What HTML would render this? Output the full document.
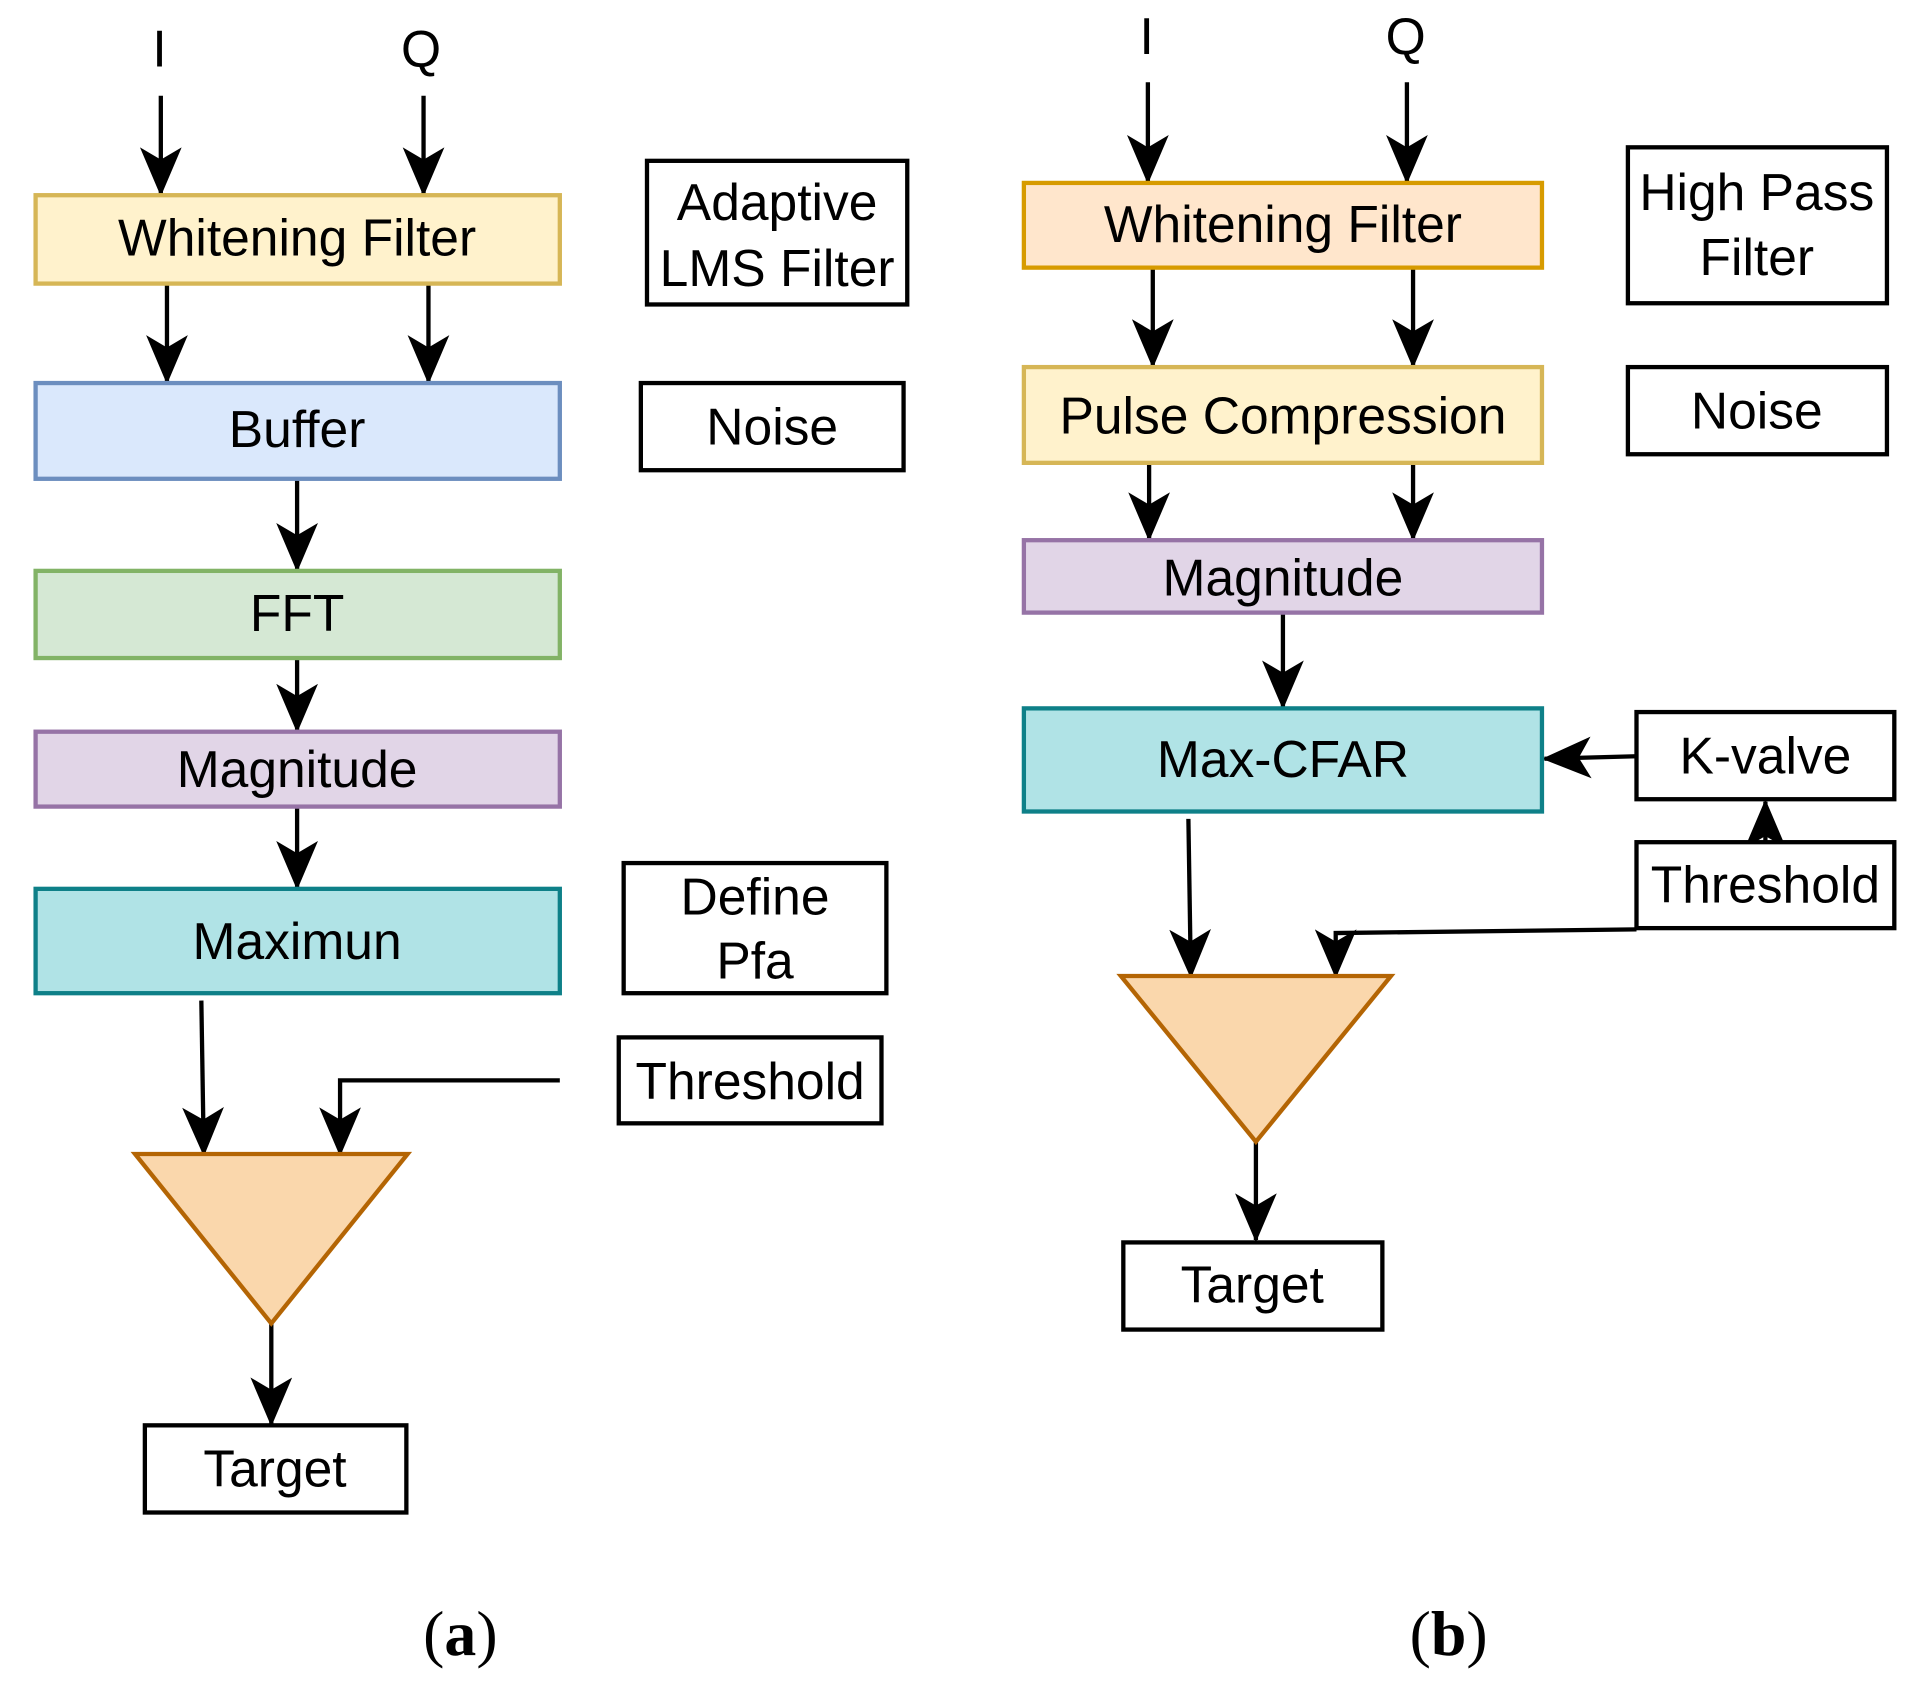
<!DOCTYPE html>
<html><head><meta charset="utf-8"><style>html,body{margin:0;padding:0;background:#fff}svg{display:block}</style></head>
<body>
<svg width="1925" height="1685" viewBox="0 0 1568 1372.5" xmlns="http://www.w3.org/2000/svg" font-family="Liberation Sans, sans-serif" font-size="42">
<defs>
<marker id="b" markerWidth="40" markerHeight="34" refX="38" refY="17" orient="auto" markerUnits="userSpaceOnUse" viewBox="0 0 40 34">
<path d="M0,0 L40,17 L0,34 L10,17 Z" fill="#000"/>
</marker>
</defs>
<g stroke-width="3.5" stroke="#000" fill="none" marker-end="url(#b)">
<line x1="131" y1="78" x2="131" y2="158"/>
<line x1="345" y1="78" x2="345" y2="158"/>
<line x1="136" y1="231" x2="136" y2="311"/>
<line x1="349" y1="231" x2="349" y2="311"/>
<line x1="242" y1="390" x2="242" y2="464"/>
<line x1="242" y1="536" x2="242" y2="595"/>
<line x1="242" y1="657" x2="242" y2="723"/>
<line x1="164" y1="815" x2="166" y2="940"/>
<polyline points="456,880 277,880 277,940"/>
<line x1="221" y1="1078" x2="221" y2="1160"/>
<line x1="935" y1="67" x2="935" y2="148"/>
<line x1="1146" y1="67" x2="1146" y2="148"/>
<line x1="939" y1="218" x2="939" y2="298"/>
<line x1="1151" y1="218" x2="1151" y2="298"/>
<line x1="936" y1="377" x2="936" y2="439"/>
<line x1="1151" y1="377" x2="1151" y2="439"/>
<line x1="1045" y1="499" x2="1045" y2="576"/>
<line x1="1333" y1="616" x2="1258" y2="618"/>
<line x1="1438" y1="686" x2="1438" y2="653"/>
<polyline points="1333,757 1088,760 1088,795"/>
<line x1="968" y1="667" x2="970" y2="795"/>
<line x1="1023" y1="930" x2="1023" y2="1010"/>
</g>
<g stroke-width="3.5">
<rect x="29" y="159" width="427" height="72" fill="#fff2cc" stroke="#d6b656"/>
<rect x="29" y="312" width="427" height="78" fill="#dae8fc" stroke="#6c8ebf"/>
<rect x="29" y="465" width="427" height="71" fill="#d5e8d4" stroke="#82b366"/>
<rect x="29" y="596" width="427" height="61" fill="#e1d5e7" stroke="#9673a6"/>
<rect x="29" y="724" width="427" height="85" fill="#b0e3e6" stroke="#0e8088"/>
<rect x="527" y="131" width="212" height="117" fill="#fff" stroke="#000"/>
<rect x="522" y="312" width="214" height="71" fill="#fff" stroke="#000"/>
<rect x="508" y="703" width="214" height="106" fill="#fff" stroke="#000"/>
<rect x="504" y="845" width="214" height="70" fill="#fff" stroke="#000"/>
<polygon points="110,940 332,940 221,1078" fill="#fad7ac" stroke="#b46504"/>
<rect x="118" y="1161" width="213" height="71" fill="#fff" stroke="#000"/>
<rect x="834" y="149" width="422" height="69" fill="#ffe6cc" stroke="#d79b00"/>
<rect x="834" y="299" width="422" height="78" fill="#fff2cc" stroke="#d6b656"/>
<rect x="834" y="440" width="422" height="59" fill="#e1d5e7" stroke="#9673a6"/>
<rect x="834" y="577" width="422" height="84" fill="#b0e3e6" stroke="#0e8088"/>
<rect x="1326" y="120" width="211" height="127" fill="#fff" stroke="#000"/>
<rect x="1326" y="299" width="211" height="71" fill="#fff" stroke="#000"/>
<rect x="1333" y="580" width="210" height="71" fill="#fff" stroke="#000"/>
<rect x="1333" y="686" width="210" height="70" fill="#fff" stroke="#000"/>
<polygon points="913,795 1133,795 1023,930" fill="#fad7ac" stroke="#b46504"/>
<rect x="915" y="1012" width="211" height="71" fill="#fff" stroke="#000"/>
</g>
<g text-anchor="middle" fill="#000">
<text x="130" y="54">I</text>
<text x="343" y="54">Q</text>
<text x="242" y="208">Whitening Filter</text>
<text x="242" y="364">Buffer</text>
<text x="242" y="514">FFT</text>
<text x="242" y="641">Magnitude</text>
<text x="242" y="781">Maximun</text>
<text x="633" y="179">Adaptive</text>
<text x="633" y="233">LMS Filter</text>
<text x="629" y="362">Noise</text>
<text x="615" y="745">Define</text>
<text x="615" y="797">Pfa</text>
<text x="611" y="895">Threshold</text>
<text x="224" y="1211">Target</text>
<text x="934" y="44">I</text>
<text x="1145" y="44">Q</text>
<text x="1045" y="197">Whitening Filter</text>
<text x="1045" y="353">Pulse Compression</text>
<text x="1045" y="485">Magnitude</text>
<text x="1045" y="633">Max-CFAR</text>
<text x="1431" y="171">High Pass</text>
<text x="1431" y="224">Filter</text>
<text x="1431" y="349">Noise</text>
<text x="1438" y="630">K-valve</text>
<text x="1438" y="735">Threshold</text>
<text x="1020" y="1061">Target</text>
<text x="375" y="1348" font-family="Liberation Serif, serif" font-size="52">(<tspan font-weight="bold">a</tspan>)</text>
<text x="1180" y="1348" font-family="Liberation Serif, serif" font-size="52">(<tspan font-weight="bold">b</tspan>)</text>
</g>
</svg>
</body></html>
